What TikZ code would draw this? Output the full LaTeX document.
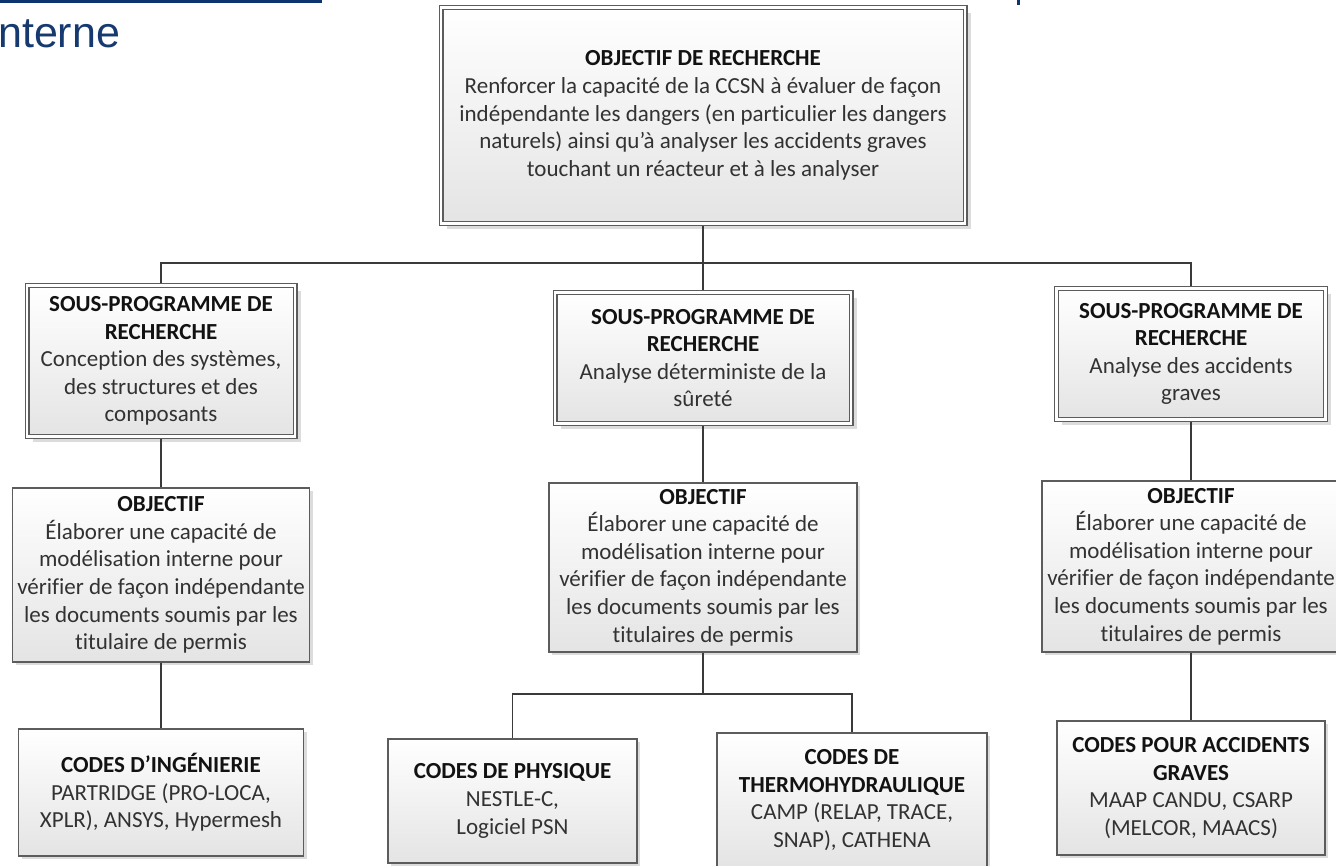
\documentclass[tikz,border=0pt]{standalone}
\usepackage{fontspec}
\setmainfont{Carlito}[Ligatures={NoCommon}]
\newfontfamily\fragfont{Liberation Sans}
\usetikzlibrary{shadows}
\definecolor{navy}{RGB}{13,52,110}
\definecolor{fragc}{RGB}{22,58,112}
\definecolor{bordc}{RGB}{92,92,92}
\definecolor{linec}{RGB}{58,58,58}
\definecolor{txtc}{RGB}{50,50,50}
\definecolor{ttlc}{RGB}{18,18,18}
\definecolor{fillbot}{RGB}{228,228,228}
\newcommand{\ttl}[1]{{\bfseries\color{ttlc}#1}}
\tikzset{
  boxbase/.style={draw=bordc, top color=white, bottom color=fillbot,
    align=center, inner sep=0pt, text=txtc,
    font=\fontsize{23}{27.6}\selectfont},
  box/.style={boxbase, line width=1.3pt,
    drop shadow={shadow xshift=3pt, shadow yshift=-3pt, opacity=0.28, fill=gray}},
  dbox/.style={boxbase, double=white, double distance=2.8pt, line width=1.1pt,
    outer sep=2.5pt,
    drop shadow={shadow xshift=5.5pt, shadow yshift=-5.5pt, opacity=0.28, fill=gray}},
  conn/.style={draw=linec, line width=1.8pt},
}
\begin{document}
\begin{tikzpicture}[x=1pt, y=-1pt]
\useasboundingbox (0,0) rectangle (1336,865);

% page fragments
\fill[navy] (0,0) rectangle (322,3.2);
\node[anchor=base west, inner sep=0pt, text=fragc,
      font=\fragfont\fontsize{43}{43}\selectfont] (frag) at (-2,47) {nterne};
\fill[navy] (1017,0) rectangle (1019.5,4.5);

% level 0
\node[dbox, minimum width=524pt, minimum height=216pt] (top) at (703,115.5)
 {\ttl{OBJECTIF DE RECHERCHE}\\Renforcer la capacité de la CCSN à évaluer de façon\\indépendante les dangers (en particulier les dangers\\naturels) ainsi qu’à analyser les accidents graves\\touchant un réacteur et à les analyser};

% level 1
\node[dbox, minimum width=268pt, minimum height=151pt] (subL) at (161,361)
 {\ttl{SOUS-PROGRAMME DE}\\\ttl{RECHERCHE}\\Conception des systèmes,\\des structures et des\\composants};
\node[dbox, minimum width=296pt, minimum height=131pt] (subM) at (703,358)
 {\ttl{SOUS-PROGRAMME DE}\\\ttl{RECHERCHE}\\Analyse déterministe de la\\sûreté};
\node[dbox, minimum width=269pt, minimum height=131pt] (subR) at (1191,354)
 {\ttl{SOUS-PROGRAMME DE}\\\ttl{RECHERCHE}\\Analyse des accidents\\graves};

% level 2
\node[box, minimum width=297pt, minimum height=174pt] (objL) at (161,575)
 {\ttl{OBJECTIF}\\Élaborer une capacité de\\modélisation interne pour\\vérifier de façon indépendante\\les documents soumis par les\\titulaire de permis};
\node[box, minimum width=308pt, minimum height=169pt] (objM) at (703,567.5)
 {\ttl{OBJECTIF}\\Élaborer une capacité de\\modélisation interne pour\\vérifier de façon indépendante\\les documents soumis par les\\titulaires de permis};
\node[box, minimum width=298pt, minimum height=171pt] (objR) at (1191,566.5)
 {\ttl{OBJECTIF}\\Élaborer une capacité de\\modélisation interne pour\\vérifier de façon indépendante\\les documents soumis par les\\titulaires de permis};

% level 3
\node[box, minimum width=285pt, minimum height=127pt] (ing) at (161,792.5)
 {\ttl{CODES D’INGÉNIERIE}\\PARTRIDGE (PRO-LOCA,\\XPLR), ANSYS, Hypermesh};
\node[box, minimum width=249pt, minimum height=124pt] (phys) at (512.5,801)
 {\ttl{CODES DE PHYSIQUE}\\NESTLE-C,\\Logiciel PSN};
\node[box, minimum width=270pt, minimum height=134pt] (thermo) at (852,800)
 {\ttl{CODES DE}\\\ttl{THERMOHYDRAULIQUE}\\CAMP (RELAP, TRACE,\\SNAP), CATHENA};
\node[box, minimum width=268pt, minimum height=134pt] (acc) at (1191,788)
 {\ttl{CODES POUR ACCIDENTS}\\\ttl{GRAVES}\\MAAP CANDU, CSARP\\(MELCOR, MAACS)};

% connectors
\coordinate (bus) at (703,263);
\coordinate (mbus) at (703,694);
\draw[conn] (top.south) -- (subM.north);
\draw[conn] (subL.north) -- (subL.north |- bus) -- (subR.north |- bus) -- (subR.north);
\draw[conn] (subL.south) -- (objL.north);
\draw[conn] (objL.south) -- (ing.north);
\draw[conn] (subM.south) -- (objM.north);
\draw[conn] (objM.south) -- (objM.south |- mbus);
\draw[conn] (phys.north) -- (phys.north |- mbus) -- (thermo.north |- mbus) -- (thermo.north);
\draw[conn] (subR.south) -- (objR.north);
\draw[conn] (objR.south) -- (acc.north);
\end{tikzpicture}
\end{document}
